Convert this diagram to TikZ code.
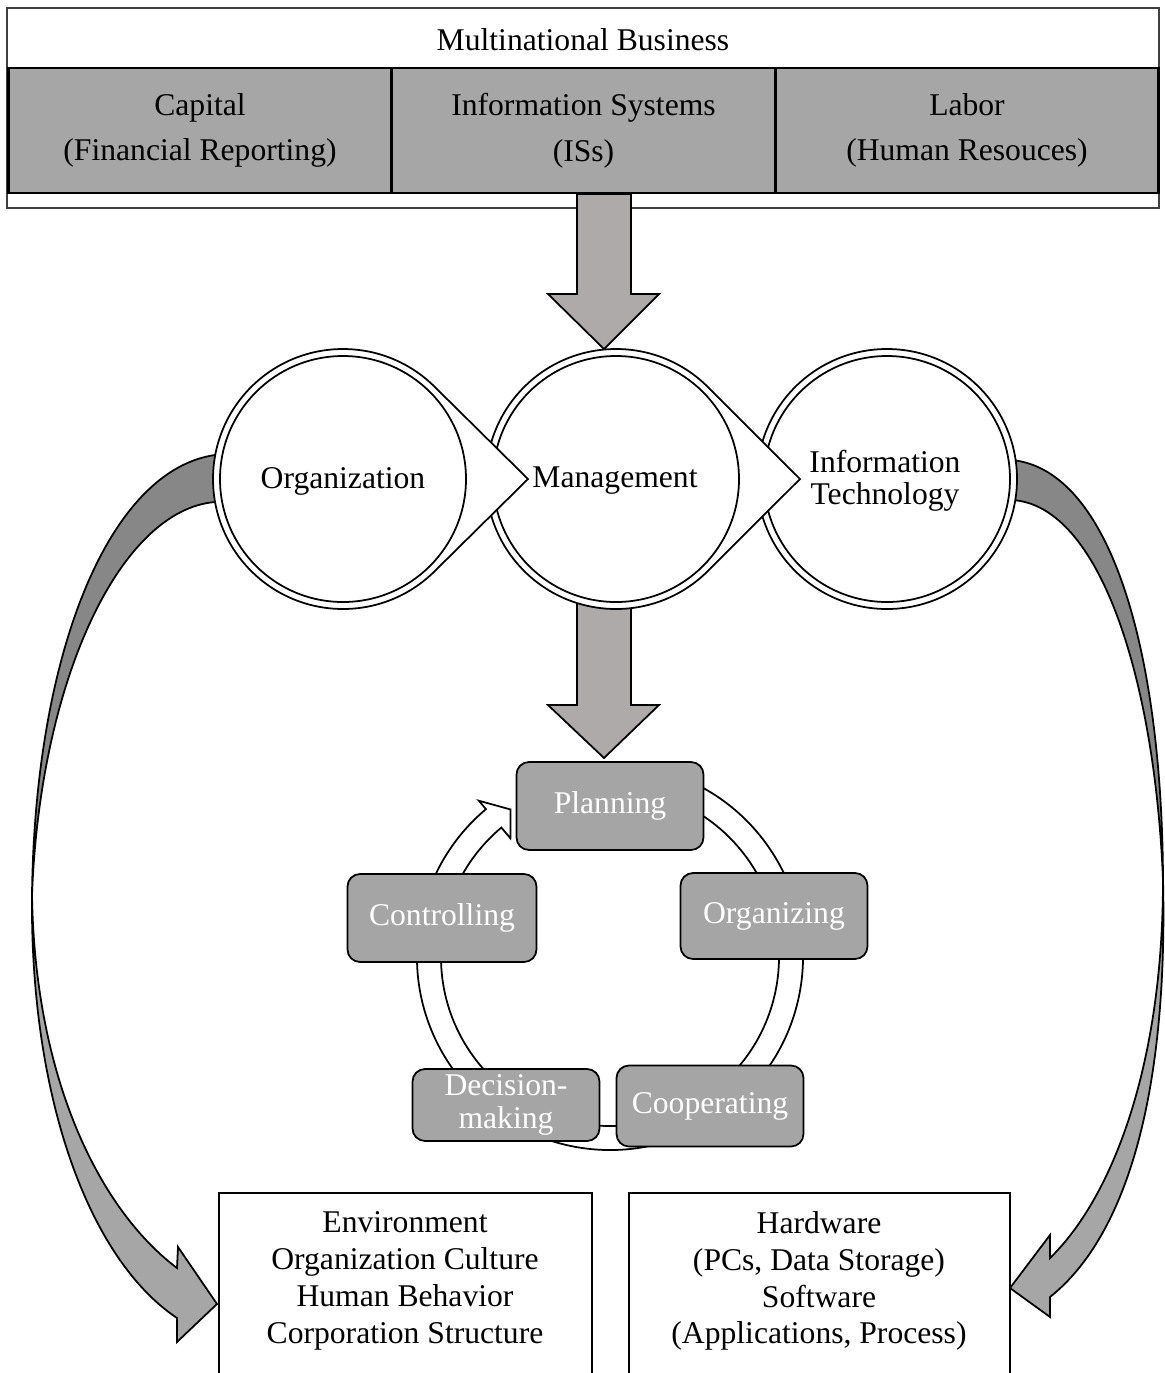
\documentclass[tikz,border=0pt]{standalone}
\usepackage{fontspec}
\setmainfont{Liberation Serif}

\definecolor{hdrgray}{HTML}{A6A6A6}
\definecolor{arrgray}{HTML}{AEAAAA}
\definecolor{darkband}{HTML}{878787}
\definecolor{boxgray}{HTML}{A5A5A5}

\begin{document}
\begin{tikzpicture}[x=0.02cm,y=-0.02cm,font=\fontsize{18}{21}\selectfont,
  cell/.style={draw,line width=1.5pt,fill=hdrgray,minimum width=7.67cm,minimum height=2.5cm,align=center,font=\fontsize{18}{26}\selectfont},
  ring/.style={draw,line width=1pt,fill=white},
  stage/.style={draw,line width=1pt,fill=boxgray,rounded corners=0.25cm,text=white,minimum width=3.74cm,minimum height=1.76cm,align=center},
  blockarrow/.style={draw,line width=1pt,fill=arrgray},
  band/.style={draw,line width=1pt,fill=#1},
  plainbox/.style={draw,line width=1pt,minimum width=7.46cm,minimum height=4cm,anchor=north}]

\useasboundingbox (0,0) rectangle (1165,1373);
\clip (0,0) rectangle (1165,1373);

% side arrows
\draw[band=darkband] (220,455) -- (215,455) .. controls (110,470) and (35,650) .. (32,895)
  .. controls (40,680) and (120,510) .. (215,502) -- (220,502) -- cycle;
\draw[band=hdrgray] (32,895) .. controls (35,1080) and (100,1210) .. (177,1268) -- (178,1247)
  -- (217,1304) -- (177,1342) -- (177,1318) .. controls (90,1260) and (30,1100) .. (32,895) -- cycle;
\draw[band=darkband] (1012,460) .. controls (1110,470) and (1162,650) .. (1163,880)
  .. controls (1155,680) and (1100,505) .. (1012,500) -- cycle;
\draw[band=hdrgray] (1163,880) .. controls (1163,1070) and (1110,1200) .. (1050,1258) -- (1050,1235)
  -- (1010,1288) -- (1050,1317) -- (1050,1297) .. controls (1128,1235) and (1168,1090) .. (1163,880) -- cycle;

% header
\draw[line width=0.8pt,black!75] (7,8) rectangle (1159,208);
\node (hdr) at (583,40) {Multinational Business};
\node[cell] (cap) at (200,130.5) {Capital\\(Financial Reporting)};
\node[cell] (iss) at (583.5,130.5) {Information Systems\\(ISs)};
\node[cell] (lab) at (967,130.5) {Labor\\(Human Resouces)};

% arrow into planning
\draw[blockarrow] (577,590) -- (577,705) -- (548,705) -- (604,758) -- (659,705) -- (631,705) -- (631,590) -- cycle;

% circles
\draw[ring] (887,479) circle[radius=130];
\draw[line width=1pt] (887,479) circle[radius=123];
\node[align=center,font=\fontsize{18}{18}\selectfont] (itech) at (885,481) {Information\\Technology};

\draw[ring,shift={(616,479)}] (184,0) -- (45:130) arc[start angle=45,end angle=315,radius=130] -- cycle;
\draw[line width=1pt] (616,479) circle[radius=123];
\node (mgmt) at (615,481) {Management};

\draw[ring,shift={(343,479)}] (185,0) -- (45.35:130) arc[start angle=45.35,end angle=314.65,radius=130] -- cycle;
\draw[line width=1pt] (343,479) circle[radius=123];
\node (org) at (343,481) {Organization};

% arrow into management
\coordinate (a1) at (604,194);
\draw[blockarrow] (a1) ++(-27,0) -- ++(0,100) -- ++(-29,0) -- (604,349) -- ++(55,-55) -- ++(-28,0) -- ++(0,-100) -- cycle;

% cycle
\begin{scope}[shift={(610,957)}]
\draw[ring] (-80:193) arc[start angle=-80,end angle=230,radius=193] -- (230:204) -- (236:178)
  -- (230:155) -- (230:169) arc[start angle=230,end angle=-80,radius=169] -- cycle;
\end{scope}
\node[stage] (plan) at (610,806) {Planning};
\node[stage,minimum height=1.72cm] (orgz) at (774,916) {Organizing};
\node[stage,minimum height=1.62cm] (coop) at (710,1106) {Cooperating};
\node[stage,minimum height=1.44cm,inner sep=0pt,font=\fontsize{18}{18.5}\selectfont] (dec) at (506,1105) {Decision-\\making};
\node[stage,minimum width=3.78cm] (ctrl) at (442,918) {Controlling};

% bottom boxes
\node[plainbox] (envbox) at (405.5,1192) {};
\node[align=center] (env) at (405,1281) {Environment\\Organization Culture\\Human Behavior\\Corporation Structure};
\node[plainbox,minimum width=7.62cm] (hwbox) at (819.5,1192) {};
\node[align=center] (hw) at (819,1281) {Hardware\\(PCs, Data Storage)\\Software\\(Applications, Process)};

\end{tikzpicture}
\end{document}
